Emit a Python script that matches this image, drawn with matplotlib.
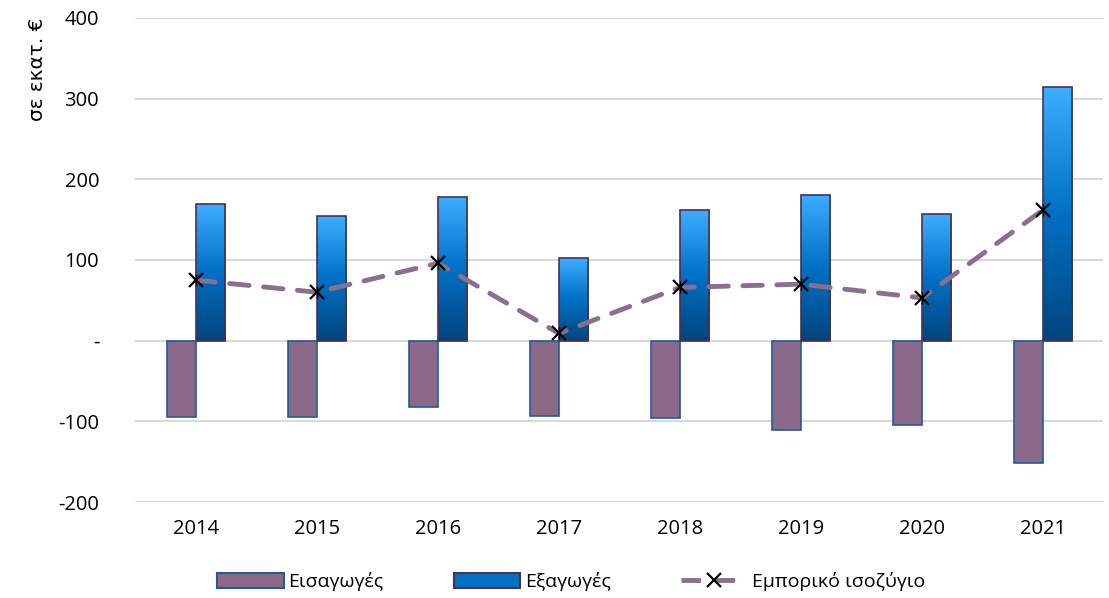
import matplotlib
matplotlib.use("Agg")
import matplotlib.pyplot as plt
import numpy as np
from matplotlib.colors import LinearSegmentedColormap
from matplotlib.patches import Patch
from matplotlib.lines import Line2D
from matplotlib.ticker import FuncFormatter

plt.rcParams['font.family'] = ['Open Sans', 'DejaVu Sans']

years = ["2014", "2015", "2016", "2017", "2018", "2019", "2020", "2021"]
imports = [-95, -94, -82, -93, -96, -111, -104, -152]
exports = [170, 154, 178, 102, 162, 181, 157, 314]
balance = [75, 60, 96, 9, 66, 70, 53, 162]

imp_color = "#8A6887"
imp_edge = "#1F5C99"
exp_edge = "#4B3050"
line_color = "#8B6F8E"

fig = plt.figure(figsize=(11.09, 5.98), dpi=100)
ax = fig.add_axes([0.122, 0.1605, 0.873, 0.8095])

x = np.arange(len(years))
w = 0.24

ax.bar(x - w / 2, imports, w, color=imp_color, edgecolor=imp_edge, linewidth=1.2, zorder=3)
ebars = ax.bar(x + w / 2, exports, w, color="none", edgecolor=exp_edge, linewidth=1.2, zorder=4)

# vertical gradient inside export bars
cmap = LinearSegmentedColormap.from_list("blu", ["#00457C", "#0070C6", "#3DADFF"])
grad = np.linspace(0, 1, 256).reshape(-1, 1)
for b in ebars:
    x0, y0, bw, bh = b.get_x(), b.get_y(), b.get_width(), b.get_height()
    im = ax.imshow(grad, cmap=cmap, origin="lower", aspect="auto",
                   extent=[x0, x0 + bw, y0, y0 + bh], zorder=3.5)
    im.set_clip_path(b)

ax.plot(x, balance, color=line_color, lw=3.5, dashes=(4, 3), zorder=5,
        solid_capstyle="round", dash_capstyle="round")
ax.plot(x, balance, ls="none", marker="x", ms=10, mew=1.6, color="black", zorder=6)
ax.plot(x, balance, ls="none", marker="|", ms=9, mew=1.0, color="black", zorder=6)

ax.set_xlim(-0.5, len(years) - 0.5)
ax.set_ylim(-200, 400)
ax.set_yticks(range(-200, 401, 100))
ax.yaxis.set_major_formatter(FuncFormatter(lambda v, p: "-" if v == 0 else f"{int(v)}"))
ax.set_xticks(x)
ax.set_xticklabels(years)
ax.tick_params(length=0, labelsize=14.5, pad=26)
ax.tick_params(axis="x", pad=12)
for s in ax.spines.values():
    s.set_visible(False)
ax.grid(axis="y", color="#D9D9D9", lw=1.5, zorder=0)
ax.set_axisbelow(True)
ax.set_ylabel("σε εκατ. €", fontsize=14.5, loc="top", labelpad=8,
              family=["DejaVu Sans"])

handles = [
    Patch(facecolor=imp_color, edgecolor=imp_edge, lw=1.5),
    Patch(facecolor="#0070C6", edgecolor=exp_edge, lw=1.5),
    Line2D([0], [0], color=line_color, lw=3.5, dashes=(4, 3), marker="x",
           ms=10, mec="black", mew=1.6),
]
labels = ["Εισαγωγές", "Εξαγωγές", "Εμπορικό ισοζύγιο"]
fig.legend(handles, labels, loc="lower center", bbox_to_anchor=(0.515, -0.018), ncol=3,
           frameon=False, fontsize=14, handlelength=3.4, handleheight=0.75,
           columnspacing=3.6, handletextpad=0.25)

fig.savefig("out.png", dpi=100)
